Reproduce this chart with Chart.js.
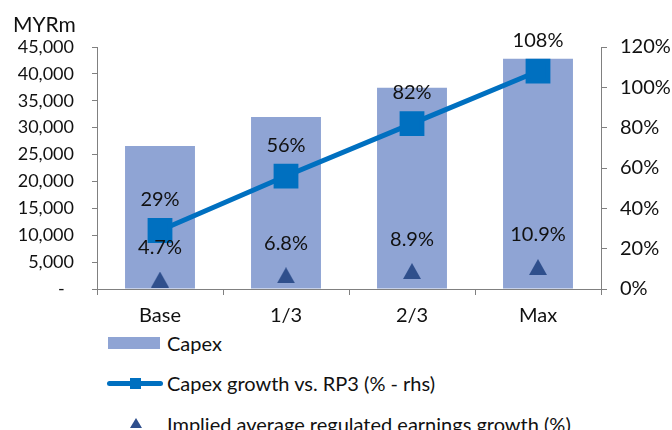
<!DOCTYPE html>
<html>
<head>
<meta charset="utf-8">
<script src="https://cdn.jsdelivr.net/npm/chart.js@4.4.1/dist/chart.umd.min.js"></script>
<style>
  body { margin: 0; background: #fff; font-family: Lato, sans-serif; }
  #wrap { position: relative; width: 672px; height: 430px; overflow: hidden; }
  #chart { position: absolute; left: 0; top: 0; }
  .leg-text { position: absolute; left: 167px; font: 20px Lato, sans-serif; color: #111; line-height: 22px; white-space: nowrap; }
  .leg-box { position: absolute; }
</style>
</head>
<body>
<div id="wrap">
  <canvas id="chart" width="672" height="330"></canvas>
  <div id="legend"></div>
</div>
<script>
// ===== Data =====
const scenarios = ['Base', '1/3', '2/3', 'Max'];
const capexValues = [26600, 32000, 37400, 42800];
const capexGrowthPct = [29, 56, 82, 108];
const earningsGrowthPct = [4.7, 6.8, 8.9, 10.9];
const leftTicks = [0, 5000, 10000, 15000, 20000, 25000, 30000, 35000, 40000, 45000];
const rightTicks = [0, 20, 40, 60, 80, 100, 120];

const seriesNames = ['Capex', 'Capex growth vs. RP3 (% - rhs)', 'Implied average regulated earnings growth (%)'];

const BAR_COLOR = '#8fa4d4';
const LINE_COLOR = '#0070c0';
const TRI_COLOR = '#2f4f8c';
const AXIS_COLOR = '#808080';
const NUM_FONT = { family: 'Lato', size: 18 };
const TEXT_FONT = { family: 'Lato', size: 20 };

// triangle marker, centred on its bounding box like the source
function makeTriangle(w, h) {
  const c = document.createElement('canvas');
  c.width = w;
  c.height = h;
  const g = c.getContext('2d');
  g.fillStyle = TRI_COLOR;
  g.beginPath();
  g.moveTo(w / 2, 0);
  g.lineTo(w, h);
  g.lineTo(0, h);
  g.closePath();
  g.fill();
  return c;
}
const triangleMarker = makeTriangle(18, 16);

// ===== Labels plugin =====
const valueLabels = {
  id: 'valueLabels',
  afterDatasetsDraw(chart) {
    const { ctx } = chart;
    ctx.save();
    ctx.font = '20px Lato';
    ctx.fillStyle = '#111';
    ctx.textAlign = 'center';
    ctx.textBaseline = 'middle';

    chart.getDatasetMeta(1).data.forEach((pt, i) => {
      ctx.fillText(`${capexGrowthPct[i]}%`, pt.x, pt.y - 31);
    });
    chart.getDatasetMeta(2).data.forEach((pt, i) => {
      ctx.fillText(`${earningsGrowthPct[i].toFixed(1)}%`, pt.x, pt.y - 32);
    });

    ctx.font = '21px Lato';
    ctx.textAlign = 'left';
    ctx.fillText('MYRm', 13, 25);
    ctx.restore();
  },
};

// ===== Chart =====
new Chart(document.getElementById('chart'), {
  data: {
    labels: scenarios,
    datasets: [
      {
        type: 'bar',
        label: seriesNames[0],
        data: capexValues,
        backgroundColor: BAR_COLOR,
        borderWidth: 0,
        barPercentage: 0.555,
        categoryPercentage: 1,
        yAxisID: 'y',
        order: 3,
      },
      {
        type: 'line',
        label: seriesNames[1],
        data: capexGrowthPct,
        borderColor: LINE_COLOR,
        backgroundColor: LINE_COLOR,
        borderWidth: 5,
        pointStyle: 'rect',
        pointRadius: 14,
        pointHoverRadius: 14,
        yAxisID: 'y1',
        order: 2,
      },
      {
        type: 'line',
        label: seriesNames[2],
        data: earningsGrowthPct,
        showLine: false,
        pointStyle: triangleMarker,
        yAxisID: 'y1',
        order: 1,
      },
    ],
  },
  options: {
    responsive: false,
    animation: false,
    layout: { padding: { top: 47, left: 0, right: 0, bottom: 0 } },
    plugins: {
      legend: { display: false },
      tooltip: { enabled: false },
    },
    scales: {
      x: {
        offset: true,
        grid: { display: true, drawOnChartArea: false, drawTicks: true, tickLength: 6, color: AXIS_COLOR, offset: true },
        border: { color: AXIS_COLOR, width: 1 },
        ticks: { color: '#111', font: TEXT_FONT, padding: 9 },
        afterFit(scale) { scale.height = 41; },
      },
      y: {
        position: 'left',
        min: 0,
        max: 45000,
        afterBuildTicks(scale) { scale.ticks = leftTicks.map((v) => ({ value: v })); },
        grid: { display: true, drawOnChartArea: false, drawTicks: true, tickLength: 5, color: AXIS_COLOR },
        border: { color: AXIS_COLOR, width: 1 },
        ticks: {
          color: '#111',
          font: NUM_FONT,
          padding: 18,
          callback: (v) => (v === 0 ? '-  ' : v.toLocaleString('en-US')),
        },
        afterFit(scale) { scale.width = 97; },
      },
      y1: {
        position: 'right',
        min: 0,
        max: 120,
        afterBuildTicks(scale) { scale.ticks = rightTicks.map((v) => ({ value: v })); },
        grid: { display: true, drawOnChartArea: false, drawTicks: true, tickLength: 6, color: AXIS_COLOR },
        border: { color: AXIS_COLOR, width: 1 },
        ticks: {
          color: '#111',
          font: TEXT_FONT,
          padding: 13,
          callback: (v) => `${v}%`,
        },
        afterFit(scale) { scale.width = 71; },
      },
    },
  },
  plugins: [valueLabels],
});

// ===== Legend (HTML) =====
function renderLegend() {
  const legend = document.getElementById('legend');
  const rows = [
    { name: seriesNames[0], y: 343 },
    { name: seriesNames[1], y: 383 },
    { name: seriesNames[2], y: 424 },
  ];

  const swatch = document.createElement('div');
  swatch.className = 'leg-box';
  Object.assign(swatch.style, { left: '108px', top: '337px', width: '52px', height: '12px', background: BAR_COLOR });
  legend.appendChild(swatch);

  const line = document.createElement('div');
  line.className = 'leg-box';
  Object.assign(line.style, { left: '107px', top: '381px', width: '56px', height: '5px', background: LINE_COLOR, borderRadius: '3px' });
  legend.appendChild(line);

  const square = document.createElement('div');
  square.className = 'leg-box';
  Object.assign(square.style, { left: '130px', top: '378px', width: '11px', height: '11px', background: LINE_COLOR });
  legend.appendChild(square);

  const tri = makeTriangle(12, 10);
  tri.className = 'leg-box';
  Object.assign(tri.style, { left: '130px', top: '418px' });
  legend.appendChild(tri);

  rows.forEach((row) => {
    const text = document.createElement('div');
    text.className = 'leg-text';
    text.style.top = `${row.y - 11}px`;
    text.textContent = row.name;
    legend.appendChild(text);
  });
}

renderLegend();
</script>
</body>
</html>
